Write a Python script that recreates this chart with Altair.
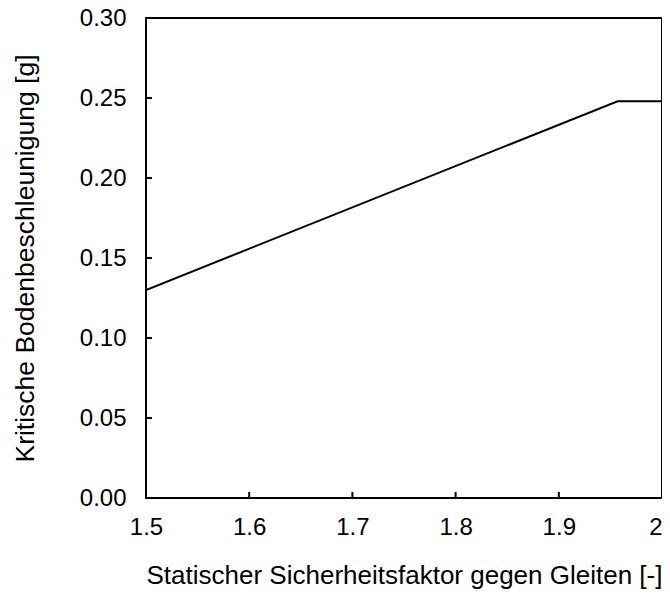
import altair as alt
import pandas as pd

x_vals = [1.5, 1.957, 2.0]
y_vals = [0.13, 0.248, 0.248]
x_ticks = [1.5, 1.6, 1.7, 1.8, 1.9, 2.0]
y_ticks = [0.0, 0.05, 0.10, 0.15, 0.20, 0.25, 0.30]
x_title = "Statischer Sicherheitsfaktor gegen Gleiten [-]"
y_title = "Kritische Bodenbeschleunigung [g]"

W, H = 516, 480
FONT = "Liberation Sans"

line_df = pd.DataFrame({"x": x_vals, "y": y_vals})
xt_df = pd.DataFrame({"x": x_ticks[1:-1]})
yt_df = pd.DataFrame({"y": y_ticks[1:-1]})

xscale = alt.Scale(domain=[1.5, 2.0], nice=False, zero=False)
yscale = alt.Scale(domain=[0.0, 0.30], nice=False)

line = alt.Chart(line_df).mark_line(color="black", strokeWidth=2, clip=True).encode(
    x=alt.X("x:Q", scale=xscale,
            axis=alt.Axis(title=x_title, values=x_ticks, domain=False, ticks=False, grid=False,
                          labelExpr="datum.value == 2 ? '2' : format(datum.value, '.1f')",
                          labelFlush=False,
                          labelAlign={"expr": "datum.value == 2 ? 'right' : 'center'"},
                          labelFontSize=24, labelFont=FONT, labelColor="black", labelPadding=17,
                          titleFontSize=26, titleFont=FONT, titleFontWeight="normal", titleColor="black",
                          titlePadding=23)),
    y=alt.Y("y:Q", scale=yscale,
            axis=alt.Axis(title=y_title, values=y_ticks, domain=False, ticks=False, grid=False,
                          format=".2f", labelFlush=False,
                          labelFontSize=24, labelFont=FONT, labelColor="black", labelPadding=20,
                          titleFontSize=26.5, titleFont=FONT, titleFontWeight="normal", titleColor="black",
                          titlePadding=40)),
)

xt = alt.Chart(xt_df).mark_rule(color="black", strokeWidth=2).encode(
    x=alt.X("x:Q", scale=xscale), y=alt.value(H), y2=alt.value(H - 6))
yt = alt.Chart(yt_df).mark_rule(color="black", strokeWidth=2).encode(
    y=alt.Y("y:Q", scale=yscale), x=alt.value(0), x2=alt.value(6))

chart = alt.layer(line, xt, yt).properties(
    width=W, height=H,
    autosize=alt.AutoSizeParams(type="none"),
    padding={"left": 138, "top": 10, "right": 0, "bottom": 92},
).configure(background="white").configure_view(stroke="black", strokeWidth=2)

chart.save("out.html", embed_options={"renderer": "svg", "actions": False})
